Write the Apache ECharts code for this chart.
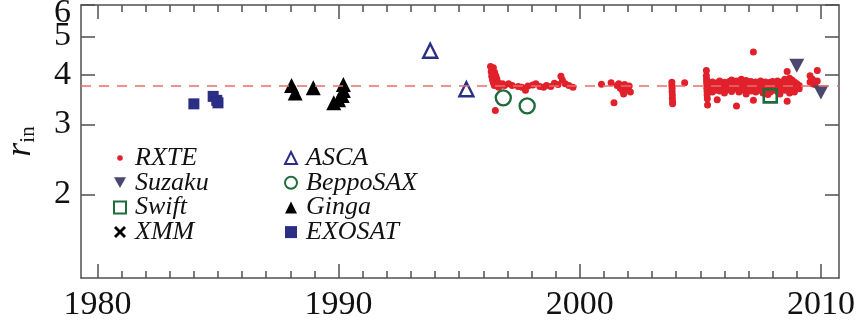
<!DOCTYPE html>
<html>
<head>
<meta charset="utf-8">
<script src="https://cdn.jsdelivr.net/npm/echarts@6/dist/echarts.min.js"></script>
<style>
  html, body { margin: 0; padding: 0; background: #fff; }
  #chart { width: 859px; height: 330px; }
</style>
</head>
<body>
<div id="chart"></div>
<script>
// Inner-disk radius r_in versus observation epoch, per X-ray mission.
const rxte = [
  [1996.30,4.20],[1996.36,4.14],[1996.42,4.17],[1996.33,4.07],[1996.40,4.02],[1996.47,4.06],
  [1996.35,3.97],[1996.44,3.93],[1996.52,3.98],[1996.38,3.89],[1996.48,3.86],[1996.56,3.91],
  [1996.42,3.82],[1996.52,3.80],[1996.60,3.84],[1996.66,3.79],[1996.46,3.76],[1996.58,3.75],
  [1996.72,3.77],[1996.80,3.80],[1996.88,3.76],[1996.64,3.72],[1996.50,3.25],
  [1997.05,3.80],[1997.20,3.76],[1997.45,3.74],[1997.60,3.72],[1997.75,3.66],[1997.85,3.75],
  [1998.05,3.77],[1998.18,3.80],[1998.35,3.74],[1998.50,3.72],[1998.62,3.76],[1998.80,3.74],
  [1998.95,3.81],[1999.10,3.78],[1999.22,3.97],[1999.28,3.88],[1999.40,3.80],[1999.55,3.76],
  [1999.72,3.72],
  [2000.90,3.79],[2001.30,3.82],[2001.42,3.40],[2001.55,3.76],[2001.62,3.80],[2001.68,3.70],
  [2001.74,3.74],[2001.78,3.64],[2001.82,3.58],[2001.86,3.78],[2001.92,3.72],[2001.98,3.68],
  [2002.05,3.75],[2002.10,3.62],
  [2003.82,3.83],[2003.82,3.76],[2003.83,3.70],[2003.83,3.63],[2003.84,3.56],[2003.84,3.49],
  [2003.85,3.42],[2003.85,3.38],[2004.35,3.82],
  [2005.25,4.10],[2005.25,3.98],[2005.26,3.90],[2005.26,3.84],[2005.27,3.77],[2005.27,3.70],
  [2005.28,3.63],[2005.28,3.56],[2005.29,3.48],[2005.30,3.36],
  [2005.40,3.80],[2005.40,3.74],[2005.40,3.68],
  [2005.50,3.84],[2005.50,3.77],[2005.50,3.71],[2005.50,3.62],
  [2005.60,3.79],[2005.60,3.73],[2005.60,3.66],
  [2005.70,3.82],[2005.70,3.76],[2005.70,3.70],[2005.70,3.46],
  [2005.80,3.86],[2005.80,3.78],[2005.80,3.72],[2005.80,3.64],
  [2005.90,3.80],[2005.90,3.74],[2005.90,3.68],
  [2006.00,3.83],[2006.00,3.77],[2006.00,3.71],[2006.00,3.60],
  [2006.10,3.79],[2006.10,3.73],[2006.10,3.67],
  [2006.20,3.85],[2006.20,3.80],[2006.20,3.74],[2006.20,3.68],
  [2006.30,3.88],[2006.30,3.78],[2006.30,3.72],[2006.30,3.63],
  [2006.40,3.82],[2006.40,3.76],[2006.40,3.69],
  [2006.50,3.86],[2006.50,3.79],[2006.50,3.73],[2006.50,3.34],
  [2006.60,3.81],[2006.60,3.75],[2006.60,3.70],[2006.60,3.62],
  [2006.70,3.90],[2006.70,3.84],[2006.70,3.77],[2006.70,3.71],
  [2006.80,3.80],[2006.80,3.74],[2006.80,3.66],
  [2006.90,3.87],[2006.90,3.79],[2006.90,3.73],[2006.90,3.58],
  [2007.00,3.83],[2007.00,3.77],[2007.00,3.70],
  [2007.10,3.85],[2007.10,3.78],[2007.10,3.72],[2007.10,3.64],
  [2007.20,4.57],[2007.20,3.80],[2007.20,3.75],[2007.20,3.45],
  [2007.30,3.84],[2007.30,3.77],[2007.30,3.71],[2007.30,3.62],
  [2007.40,3.81],[2007.40,3.75],[2007.40,3.68],
  [2007.50,3.86],[2007.50,3.79],[2007.50,3.73],[2007.50,3.66],
  [2007.60,3.82],[2007.60,3.76],[2007.60,3.70],[2007.60,3.60],
  [2007.70,3.84],[2007.70,3.78],[2007.70,3.72],
  [2007.80,3.80],[2007.80,3.74],[2007.80,3.67],[2007.80,3.57],
  [2007.90,3.83],[2007.90,3.77],[2007.90,3.62],
  [2008.00,3.85],[2008.00,3.79],[2008.00,3.73],[2008.00,3.66],
  [2008.10,3.81],[2008.10,3.75],[2008.10,3.69],
  [2008.20,3.86],[2008.20,3.78],[2008.20,3.72],[2008.20,3.63],
  [2008.30,3.82],[2008.30,3.76],[2008.30,3.70],[2008.30,3.58],
  [2008.40,3.84],[2008.40,3.77],[2008.40,3.71],
  [2008.50,3.90],[2008.50,3.80],[2008.50,3.74],[2008.50,3.66],
  [2008.60,4.08],[2008.60,3.86],[2008.60,3.78],[2008.60,3.72],[2008.60,3.43],
  [2008.70,3.92],[2008.70,3.83],[2008.70,3.76],[2008.70,3.68],[2008.70,3.60],
  [2008.80,3.88],[2008.80,3.80],[2008.80,3.74],[2008.80,3.66],
  [2008.90,3.84],[2008.90,3.77],[2008.90,3.70],[2008.90,3.62],
  [2009.00,3.80],[2009.00,3.73],[2009.10,3.76],[2009.10,3.69],
  [2009.55,3.98],[2009.55,3.84],[2009.65,3.90],[2009.65,3.80],[2009.75,3.78],
  [2009.85,4.10],[2009.85,3.86]
];
const suzaku   = [[2009.00,4.22],[2010.00,3.61]];
const swift    = [[2007.90,3.54]];
const xmm      = [];
const asca     = [[1993.80,4.60],[1995.30,3.68]];
const beppoSAX = [[1996.83,3.50],[1997.82,3.34]];
const ginga    = [[1988.05,3.76],[1988.20,3.60],[1988.95,3.71],[1990.20,3.78],
                  [1990.20,3.65],[1990.15,3.55],[1989.80,3.40],[1990.00,3.46]];
const exosat   = [[1984.00,3.38],[1984.80,3.53],[1984.95,3.45],[1985.00,3.40]];

const meanRin = 3.75;
const yearTicks = [1980,1981,1982,1983,1984,1985,1986,1987,1988,1989,1990,1991,1992,1993,1994,1995,
                   1996,1997,1998,1999,2000,2001,2002,2003,2004,2005,2006,2007,2008,2009,2010];
const decadeTicks = [1980, 1990, 2000, 2010];
const rTicks = [2, 3, 4, 5, 6];
const rLabels = [2, 3, 4, 5];
const rTopLabel = [5.999];

const X_MIN = 1979.32, X_MAX = 2010.75;
const Y_MIN = 1.23, Y_MAX = 6;

const SERIF = '"Liberation Serif"';
const FRAME = '#505050';

const downTri = 'path://M0,0L10,0L5,9Z';
const crossMark = 'path://M0,2L2,0L6,4L10,0L12,2L8,6L12,10L10,12L6,8L2,12L0,10L4,6Z';
const smallDot = 'path://M0,0M12,12M3.2,6a2.8,2.8 0 1,0 5.6,0a2.8,2.8 0 1,0 -5.6,0Z';

function xAxisDef(position, ticks, len, showLabel, showLine) {
  return {
    type: 'value', position: position, min: X_MIN, max: X_MAX,
    axisLine: { show: showLine, onZero: false, lineStyle: { color: FRAME, width: 1.5 } },
    axisTick: { show: true, inside: true, length: len, customValues: ticks,
                lineStyle: { color: FRAME, width: 1.5 } },
    axisLabel: { show: showLabel, customValues: decadeTicks, margin: 10,
                 showMinLabel: true, showMaxLabel: true, hideOverlap: false,
                 fontFamily: SERIF, fontSize: 34, color: '#111',
                 formatter: v => String(Math.round(v)) },
    splitLine: { show: false }
  };
}
function yAxisDef(position, showLabel, labels, showLine) {
  return {
    type: 'log', logBase: 10, position: position, min: Y_MIN, max: Y_MAX,
    axisLine: { show: showLine, onZero: false, lineStyle: { color: FRAME, width: 1.5 } },
    axisTick: { show: showLine, inside: true, length: 14, customValues: rTicks,
                lineStyle: { color: FRAME, width: 1.5 } },
    axisLabel: {
      show: showLabel, customValues: labels, margin: 10,
      fontFamily: SERIF, fontSize: 34, color: '#111', lineHeight: 26,
      formatter: v => String(Math.round(v))
    },
    splitLine: { show: false },
    minorTick: { show: false }
  };
}

const yLeft = yAxisDef('left', true, rLabels, true);
yLeft.name = '{r|r}{s|in}';
yLeft.nameLocation = 'middle';
yLeft.nameRotate = 90;
yLeft.nameGap = 42;
yLeft.nameTextStyle = {
  rich: {
    r: { fontFamily: SERIF, fontStyle: 'italic', fontSize: 36, color: '#111',
         lineHeight: 36, verticalAlign: 'middle' },
    s: { fontFamily: SERIF, fontSize: 21, color: '#111',
         lineHeight: 36, verticalAlign: 'bottom', padding: [9, 0, 0, 0] }
  }
};

// Separate label-only axis for the top value, nudged down under the frame corner.
const yTop = yAxisDef('left', true, rTopLabel, false);
yTop.axisLabel.showMaxLabel = true;
yTop.axisLabel.formatter = v => '{top|' + Math.round(v) + '}';
yTop.axisLabel.rich = {
  top: { fontFamily: SERIF, fontSize: 34, color: '#111', lineHeight: 8, padding: [17, 0, 0, 0] }
};

const legendText = {
  fontFamily: SERIF, fontStyle: 'italic', fontSize: 26, color: '#111',
  padding: [0, 0, 0, 4]
};

const solid = c => ({ color: c, opacity: 1 });
const hollow = (c, w) => ({ color: 'rgba(0,0,0,0)', borderColor: c, borderWidth: w, opacity: 1 });

const option = {
  animation: false,
  backgroundColor: '#fff',
  grid: { left: 81, right: 20, top: 5, bottom: 52, containLabel: false, outerBoundsMode: 'none' },
  xAxis: [
    xAxisDef('bottom', yearTicks, 7, true, true),
    xAxisDef('bottom', decadeTicks, 14, false, false),
    xAxisDef('top', yearTicks, 7, false, true),
    xAxisDef('top', decadeTicks, 14, false, false)
  ],
  yAxis: [ yLeft, yAxisDef('right', false, rLabels, true), yTop ],
  legend: [
    {
      orient: 'vertical', left: 108, top: 140, itemWidth: 12, itemHeight: 12, itemGap: -1.3,
      textStyle: legendText, selectedMode: false,
      data: [
        { name: 'RXTE', icon: smallDot },
        { name: 'Suzaku' },
        { name: 'Swift' },
        { name: 'XMM' }
      ]
    },
    {
      orient: 'vertical', left: 279, top: 140, itemWidth: 12, itemHeight: 12, itemGap: -1.3,
      textStyle: legendText, selectedMode: false,
      data: [ { name: 'ASCA' }, { name: 'BeppoSAX' }, { name: 'Ginga' }, { name: 'EXOSAT' } ]
    }
  ],
  series: [
    {
      name: 'RXTE', type: 'scatter', data: rxte, symbol: 'circle', symbolSize: 7,
      itemStyle: solid('#e0212b'),
      markLine: {
        silent: true, symbol: ['none', 'none'], label: { show: false },
        lineStyle: { color: '#ee6b6b', width: 1.6, type: [10, 8] },
        data: [ { yAxis: meanRin } ]
      }
    },
    { name: 'EXOSAT', type: 'scatter', data: exosat, symbol: 'rect', symbolSize: 11,
      itemStyle: solid('#2a2e85') },
    { name: 'Ginga', type: 'scatter', data: ginga, symbol: 'triangle', symbolSize: 15,
      itemStyle: solid('#000') },
    { name: 'ASCA', type: 'scatter', data: asca, symbol: 'triangle', symbolSize: 14,
      itemStyle: hollow('#2a2e85', 2.4) },
    { name: 'BeppoSAX', type: 'scatter', data: beppoSAX, symbol: 'circle', symbolSize: 15,
      itemStyle: hollow('#1f6b3b', 2.4) },
    { name: 'Swift', type: 'scatter', data: swift, symbol: 'rect', symbolSize: 13,
      itemStyle: hollow('#1f6b3b', 2.6) },
    { name: 'Suzaku', type: 'scatter', data: suzaku, symbol: downTri, symbolSize: [15, 14],
      itemStyle: solid('#4b4870') },
    { name: 'XMM', type: 'scatter', data: xmm, symbol: crossMark, symbolSize: 11,
      itemStyle: solid('#000') }
  ]
};

const chart = echarts.init(document.getElementById('chart'), null, { renderer: 'canvas' });
chart.setOption(option);
</script>
</body>
</html>
